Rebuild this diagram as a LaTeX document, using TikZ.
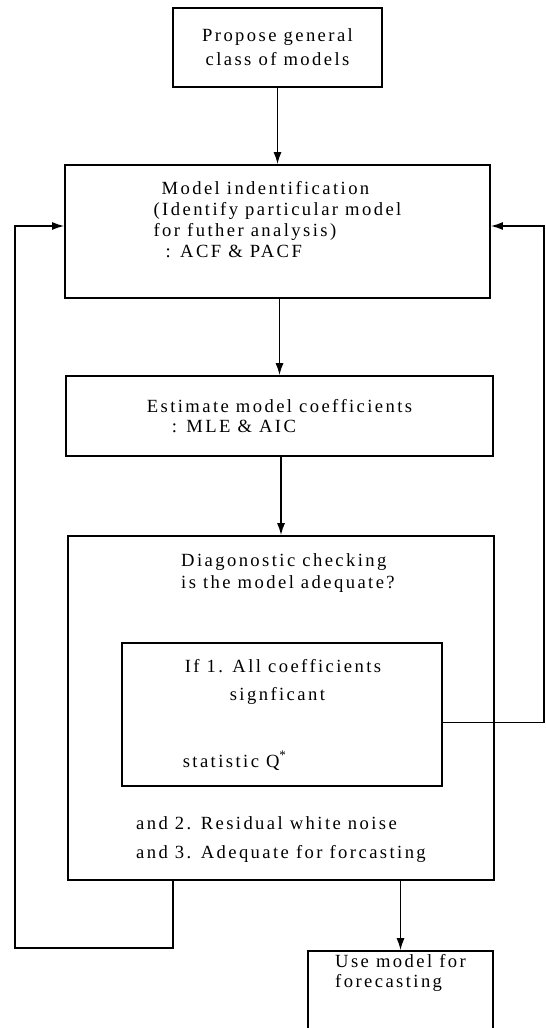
\documentclass[tikz,border=0pt]{standalone}
\usepackage{fontspec}
\setmainfont{Liberation Serif}[LetterSpace=13]
\usetikzlibrary{arrows.meta}

\tikzset{
  stage/.style={draw, rectangle, line width=0.8pt, inner sep=0pt, align=left, font=\fontsize{9.3}{10}\selectfont},
  flow/.style={line width=0.8pt, -{Latex[length=6pt,width=4pt]}}
}

\begin{document}
\begin{tikzpicture}[x=0.5pt, y=-0.5pt]
  \useasboundingbox (0,0) rectangle (546,1028);

  \node[stage, align=center, minimum width=104.5pt, minimum height=39.5pt, font=\fontsize{9.3}{12}\selectfont] (propose) at (277.5,47.5) {Propose general\\class of models};

  \node[stage, minimum width=212.5pt, text height=46pt, text depth=20.5pt, font=\fontsize{9.3}{10.5}\selectfont] (ident) at (277.5,231.5)
    {\hspace*{4pt}Model indentification\\(Identify particular model\\for futher analysis)\\\hspace*{6pt}: ACF \& PACF};

  \node[stage, minimum width=213.5pt, minimum height=40pt] (estimate) at (279.5,416)
    {Estimate model coefficients\\\hspace*{12.5pt}: MLE \& AIC};

  \node[stage, minimum width=213pt, minimum height=172pt, font=\fontsize{9.3}{11}\selectfont] (check) at (281,708)
    {\hspace*{22.5pt}Diagonostic checking\\\hspace*{22.5pt}is the model adequate?\\[109.5pt]and 2. Residual white noise\\[3.5pt]and 3. Adequate for forcasting};

  \node[stage, minimum width=160pt, minimum height=71.5pt, font=\fontsize{9.3}{14}\selectfont] (cond) at (282,714.5)
    {\hspace*{1pt}If 1. All coefficients\\\hspace*{23.5pt}signficant\\[19.5pt]statistic Q\textsuperscript{*}};

  \node[stage, minimum width=92.5pt, text height=18pt, text depth=22.5pt] (use) at (400.5,991.5)
    {Use model for\\forecasting};

  % loop corners
  \coordinate (rturn) at (544,226);
  \coordinate (lturn) at (15,948);

  \draw[flow] (propose) -- (ident);
  \draw[flow] (estimate.north |- ident.south) -- (estimate.north);
  \draw[flow] (check.north |- estimate.south) -- (check.north);
  \draw[flow] (use.north |- check.south) -- (use.north);

  \draw[flow] ([yshift=-4pt]cond.east) -| (rturn) -- ([yshift=2.75pt]ident.east);
  \draw[flow] ([xshift=-54pt]check.south) |- (lturn) |- ([yshift=2.75pt]ident.west);
\end{tikzpicture}
\end{document}
